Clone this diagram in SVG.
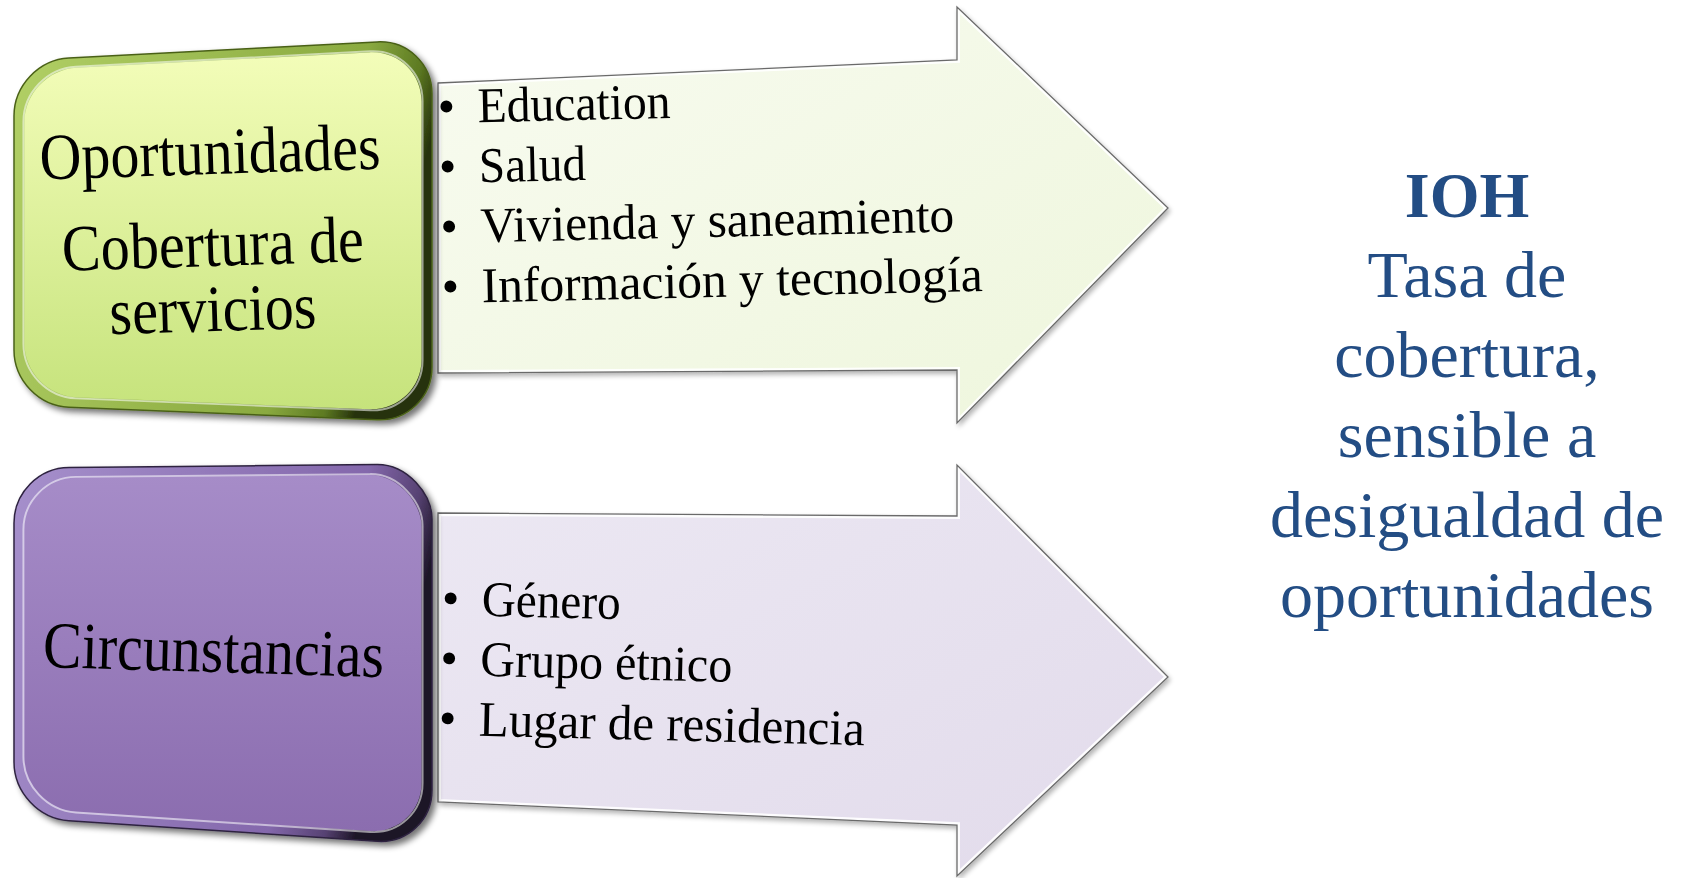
<svg xmlns="http://www.w3.org/2000/svg" xmlns:xlink="http://www.w3.org/1999/xlink" width="1681" height="878" viewBox="0 0 1681 878">
<style>
  .box-text { font-family: "Liberation Serif", "Times New Roman", serif; font-size: 66px; fill: #000; text-anchor: middle; }
  .item { font-family: "Liberation Serif", "Times New Roman", serif; font-size: 50px; fill: #000; }
  .ioh { font-family: "Liberation Serif", "Times New Roman", serif; fill: #234d84; text-anchor: middle; }
  .arrow-edge { fill: none; stroke: #6a6a6a; stroke-width: 1.3; }
  .arrow-bevel { fill: none; stroke: #ffffff; stroke-width: 6; stroke-opacity: 0.9; }
  .face-hl { fill: none; stroke: #ffffff; stroke-width: 2; stroke-opacity: 0.55; }
</style>
<defs>
  <filter id="shadow" x="-10%" y="-10%" width="125%" height="125%">
    <feGaussianBlur in="SourceAlpha" stdDeviation="3"/>
    <feOffset dx="4" dy="4" result="b"/>
    <feComponentTransfer><feFuncA type="linear" slope="0.55"/></feComponentTransfer>
    <feMerge><feMergeNode/><feMergeNode in="SourceGraphic"/></feMerge>
  </filter>
  <filter id="softshadow" x="-10%" y="-10%" width="125%" height="125%">
    <feGaussianBlur in="SourceAlpha" stdDeviation="2.5"/>
    <feOffset dx="2" dy="3" result="b"/>
    <feComponentTransfer><feFuncA type="linear" slope="0.3"/></feComponentTransfer>
    <feMerge><feMergeNode/><feMergeNode in="SourceGraphic"/></feMerge>
  </filter>
  <linearGradient id="greenRim" x1="0" y1="0" x2="1" y2="0.25">
    <stop offset="0" stop-color="#b2d066"/>
    <stop offset="0.8" stop-color="#8aaa40"/>
    <stop offset="0.93" stop-color="#5d7a22"/>
    <stop offset="1" stop-color="#26320c"/>
  </linearGradient>
  <linearGradient id="greenFace" x1="0" y1="0" x2="0" y2="1">
    <stop offset="0" stop-color="#f3fdb9"/>
    <stop offset="1" stop-color="#c6e37c"/>
  </linearGradient>
  <linearGradient id="purpleRim" x1="0" y1="0" x2="1" y2="0.25">
    <stop offset="0" stop-color="#a690cc"/>
    <stop offset="0.8" stop-color="#8468ac"/>
    <stop offset="0.93" stop-color="#574273"/>
    <stop offset="1" stop-color="#1e1628"/>
  </linearGradient>
  <linearGradient id="purpleFace" x1="0" y1="0" x2="0" y2="1">
    <stop offset="0" stop-color="#a68cc8"/>
    <stop offset="1" stop-color="#8b6daf"/>
  </linearGradient>
  <linearGradient id="greenArrow" x1="0" y1="0" x2="1" y2="1">
    <stop offset="0" stop-color="#f8fbf0"/>
    <stop offset="1" stop-color="#eef6dc"/>
  </linearGradient>
  <linearGradient id="purpleArrow" x1="0" y1="0" x2="1" y2="1">
    <stop offset="0" stop-color="#ece8f3"/>
    <stop offset="1" stop-color="#e2dbeb"/>
  </linearGradient>
  <path id="arrowTopShape" d="M438,83 L957,60 L957,7 L1168,208 L957,423 L957,370 L438,373 Z"/>
  <path id="arrowBotShape" d="M438,513 L957,516 L957,465 L1168,677 L957,876 L957,825 L438,802 Z"/>
  <path id="greenShape" d="M68.9,58.1 L377.1,41.9 C407.3,40.3 432,63.75 432,94 L432,367 C432,397.3 407.3,421 377,419.8 L69,407.2 C38.75,406 14,380.25 14,350 L14,116 C14,85.75 38.7,59.7 68.9,58.1 Z"/>
  <path id="purpleShape" d="M69,467.5 L377,464.5 C407.25,464.2 432,494.25 432,519 L432,790 C432,820.25 407.3,843.3 377.1,841.3 L68.9,820.7 C38.7,818.7 14,792.25 14,762 L14,523 C14,492.75 38.75,467.7 69,467.5 Z"/>
  <clipPath id="clipTop"><use xlink:href="#arrowTopShape"/></clipPath>
  <clipPath id="clipBot"><use xlink:href="#arrowBotShape"/></clipPath>
</defs>

<g id="connectors">
  <g id="arrow-top" filter="url(#softshadow)">
    <use xlink:href="#arrowTopShape" fill="url(#greenArrow)"/>
    <use xlink:href="#arrowTopShape" class="arrow-bevel" clip-path="url(#clipTop)"/>
    <use xlink:href="#arrowTopShape" class="arrow-edge"/>
  </g>
  <g id="arrow-bottom" filter="url(#softshadow)">
    <use xlink:href="#arrowBotShape" fill="url(#purpleArrow)"/>
    <use xlink:href="#arrowBotShape" class="arrow-bevel" clip-path="url(#clipBot)"/>
    <use xlink:href="#arrowBotShape" class="arrow-edge"/>
  </g>
</g>

<g id="list-oportunidades" transform="rotate(-1.3 448 213)">
  <text class="item" x="440" y="123">•</text><text class="item" x="480" y="123" textLength="193" lengthAdjust="spacingAndGlyphs">Education</text>
  <text class="item" x="440" y="183">•</text><text class="item" x="480" y="183" textLength="107" lengthAdjust="spacingAndGlyphs">Salud</text>
  <text class="item" x="440" y="243">•</text><text class="item" x="480" y="243" textLength="474" lengthAdjust="spacingAndGlyphs">Vivienda y saneamiento</text>
  <text class="item" x="440" y="303">•</text><text class="item" x="480" y="303" textLength="501" lengthAdjust="spacingAndGlyphs">Información y tecnología</text>
</g>

<g id="list-circunstancias" transform="rotate(1.4 448 675)">
  <text class="item" x="440" y="615">•</text><text class="item" x="480" y="615" textLength="139" lengthAdjust="spacingAndGlyphs">Género</text>
  <text class="item" x="440" y="675">•</text><text class="item" x="480" y="675" textLength="252" lengthAdjust="spacingAndGlyphs">Grupo étnico</text>
  <text class="item" x="440" y="735">•</text><text class="item" x="480" y="735" textLength="386" lengthAdjust="spacingAndGlyphs">Lugar de residencia</text>
</g>

<g id="node-oportunidades">
  <use xlink:href="#greenShape" fill="url(#greenRim)" stroke="#4a6118" stroke-width="1.5" filter="url(#shadow)"/>
  <use xlink:href="#greenShape" fill="url(#greenFace)" transform="translate(223 230) scale(0.95 0.944) translate(-223 -230)"/>
  <use xlink:href="#greenShape" class="face-hl" transform="translate(223 230) scale(0.955 0.95) translate(-223 -230)"/>
  <g transform="rotate(-1.8 213 250)">
    <text class="box-text" x="213" y="174" textLength="341" lengthAdjust="spacingAndGlyphs">Oportunidades</text>
    <text class="box-text" x="213" y="266" textLength="302" lengthAdjust="spacingAndGlyphs">Cobertura de</text>
    <text class="box-text" x="211" y="331" textLength="207" lengthAdjust="spacingAndGlyphs">servicios</text>
  </g>
</g>

<g id="node-circunstancias">
  <use xlink:href="#purpleShape" fill="url(#purpleRim)" stroke="#2e2340" stroke-width="1.5" filter="url(#shadow)"/>
  <use xlink:href="#purpleShape" fill="url(#purpleFace)" transform="translate(223 656) scale(0.95 0.945) translate(-223 -656)"/>
  <use xlink:href="#purpleShape" class="face-hl" transform="translate(223 656) scale(0.955 0.95) translate(-223 -656)"/>
  <text class="box-text" x="213" y="672" textLength="341" lengthAdjust="spacingAndGlyphs" transform="rotate(1.7 213 672)">Circunstancias</text>
</g>

<g id="node-ioh">
  <text class="ioh" x="1467" y="217" font-size="64" font-weight="bold">IOH</text>
  <text class="ioh" x="1467" y="297" font-size="66">Tasa de</text>
  <text class="ioh" x="1467" y="377" font-size="66">cobertura,</text>
  <text class="ioh" x="1467" y="457" font-size="66">sensible a</text>
  <text class="ioh" x="1467" y="537" font-size="66">desigualdad de</text>
  <text class="ioh" x="1467" y="617" font-size="66">oportunidades</text>
</g>
</svg>
